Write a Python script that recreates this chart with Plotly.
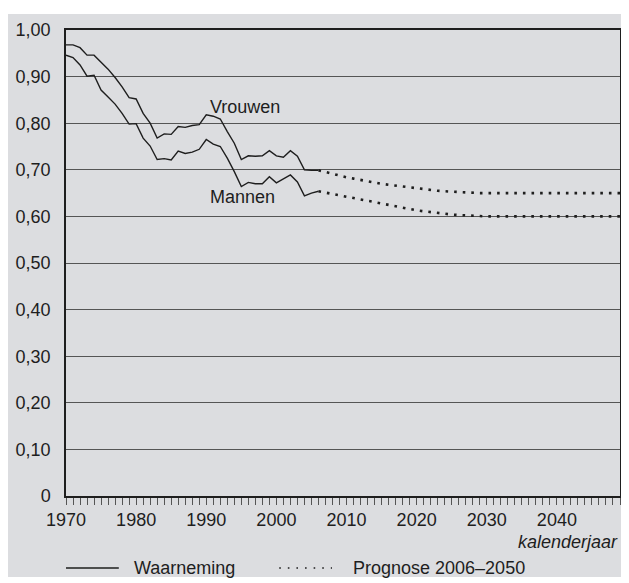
import plotly.graph_objects as go

# ---- data ----
obs_years = list(range(1970, 2007))
vrouwen_obs = [0.968, 0.968, 0.962, 0.946, 0.946, 0.932, 0.916, 0.898, 0.878, 0.855,
               0.852, 0.821, 0.800, 0.768, 0.777, 0.776, 0.793, 0.791, 0.795, 0.797,
               0.818, 0.815, 0.809, 0.782, 0.757, 0.722, 0.730, 0.729, 0.730, 0.741,
               0.730, 0.727, 0.741, 0.729, 0.700, 0.699, 0.699]
mannen_obs = [0.946, 0.941, 0.925, 0.901, 0.903, 0.871, 0.856, 0.841, 0.821, 0.798,
              0.799, 0.768, 0.751, 0.722, 0.724, 0.721, 0.740, 0.735, 0.738, 0.744,
              0.765, 0.755, 0.750, 0.725, 0.696, 0.664, 0.673, 0.670, 0.670, 0.685,
              0.672, 0.680, 0.689, 0.674, 0.644, 0.650, 0.654]

proj_years = list(range(2006, 2050))
vrouwen_proj = [0.699, 0.695, 0.691, 0.688, 0.684, 0.681, 0.678, 0.675, 0.673, 0.670,
                0.668, 0.666, 0.664, 0.662, 0.660, 0.658, 0.657, 0.655, 0.654, 0.653,
                0.652, 0.651, 0.651, 0.650, 0.650, 0.650, 0.650, 0.650, 0.650, 0.650,
                0.650, 0.650, 0.650, 0.650, 0.650, 0.650, 0.650, 0.650, 0.650, 0.650,
                0.650, 0.650, 0.650, 0.650]
mannen_proj = [0.654, 0.651, 0.648, 0.645, 0.642, 0.639, 0.636, 0.633, 0.630, 0.627,
               0.624, 0.621, 0.618, 0.615, 0.613, 0.611, 0.609, 0.607, 0.605, 0.604,
               0.603, 0.602, 0.601, 0.600, 0.600, 0.600, 0.600, 0.600, 0.600, 0.600,
               0.600, 0.600, 0.600, 0.600, 0.600, 0.600, 0.600, 0.600, 0.600, 0.600,
               0.600, 0.600, 0.600, 0.600]

x_tickvals = [1970, 1980, 1990, 2000, 2010, 2020, 2030, 2040]
x_ticktext = ["1970", "1980", "1990", "2000", "2010", "2020", "2030", "2040"]
y_tickvals = [0, 0.1, 0.2, 0.3, 0.4, 0.5, 0.6, 0.7, 0.8, 0.9, 1.0]
y_ticktext = ["0", "0,10", "0,20", "0,30", "0,40", "0,50", "0,60", "0,70", "0,80", "0,90", "1,00"]

series_labels = ["Vrouwen", "Mannen"]
legend_labels = ["Waarneming", "Prognose 2006\u20132050"]
x_title = "kalenderjaar"

FONT = "Liberation Sans, Arial, Helvetica, sans-serif"
FS = 18
INK = "#1e1e1e"
GRAY_BG = "#dcdde0"

# page is 629x583, the figure sits 8px in from the top-left (body margin)
OFF = 8
W, H = 621, 575
L, R, T, B = 58, 7, 22, 87
PW, PH = W - L - R, H - T - B

def px(x_page):
    return (x_page - OFF - L) / PW

def py(y_page):
    return (H - B - (y_page - OFF)) / PH

fig = go.Figure()
for ys in (vrouwen_obs, mannen_obs):
    fig.add_trace(go.Scatter(x=obs_years, y=ys, mode="lines",
                             line=dict(color=INK, width=1.4), showlegend=False,
                             hoverinfo="skip"))
for ys in (vrouwen_proj, mannen_proj):
    fig.add_trace(go.Scatter(x=proj_years, y=ys, mode="lines",
                             line=dict(color=INK, width=2.6, dash="2.6px,6px"),
                             showlegend=False, hoverinfo="skip"))

shapes = [
    # grey panel behind the chart
    dict(type="rect", xref="paper", yref="paper", x0=px(7), x1=px(650), y0=py(577), y1=py(14),
         fillcolor=GRAY_BG, line=dict(width=0), layer="below"),
    # legend samples
    dict(type="line", xref="paper", yref="paper", x0=px(66), x1=px(119), y0=py(568), y1=py(568),
         line=dict(color=INK, width=1.3)),
    dict(type="line", xref="paper", yref="paper", x0=px(280), x1=px(333), y0=py(568), y1=py(568),
         line=dict(color=INK, width=1.6, dash="1.6px,7px")),
]

annotations = [
    dict(x=1990.2, y=0.835, xref="x", yref="y", text=series_labels[0], showarrow=False,
         xanchor="left", yanchor="middle", font=dict(family=FONT, size=FS, color=INK)),
    dict(x=1990.2, y=0.642, xref="x", yref="y", text=series_labels[1], showarrow=False,
         xanchor="left", yanchor="middle", font=dict(family=FONT, size=FS, color=INK)),
    dict(x=1.0, y=py(542), xref="paper", yref="paper", text="<i>" + x_title + "</i>",
         showarrow=False, xanchor="right", yanchor="middle",
         font=dict(family=FONT, size=FS, color=INK)),
    dict(x=px(132), y=py(568), xref="paper", yref="paper", text=legend_labels[0],
         showarrow=False, xanchor="left", yanchor="middle",
         font=dict(family=FONT, size=FS, color=INK)),
    dict(x=px(352), y=py(568), xref="paper", yref="paper", text=legend_labels[1],
         showarrow=False, xanchor="left", yanchor="middle",
         font=dict(family=FONT, size=FS, color=INK)),
]

fig.update_layout(
    width=W, height=H,
    margin=dict(l=L, r=R, t=T, b=B, pad=0),
    paper_bgcolor="white", plot_bgcolor="white",
    font=dict(family=FONT, size=FS, color=INK),
    showlegend=False,
    shapes=shapes, annotations=annotations,
)
fig.update_xaxes(range=[1970, 2049], tickmode="array", tickvals=x_tickvals, ticktext=x_ticktext,
                 ticks="outside", ticklen=7, tickwidth=1.3, tickcolor="#555",
                 minor=dict(dtick=1, tick0=1970, ticks="outside", ticklen=7, tickwidth=1.3,
                            tickcolor="#555", showgrid=False),
                 showgrid=False, zeroline=False,
                 showline=True, linecolor=INK, linewidth=1.5, mirror=True,
                 tickfont=dict(family=FONT, size=FS, color=INK), ticklabelstandoff=0)
fig.update_yaxes(range=[0, 1.0], tickmode="array", tickvals=y_tickvals, ticktext=y_ticktext,
                 ticks="", showgrid=True, gridcolor="#555", gridwidth=1.4, zeroline=False,
                 showline=True, linecolor=INK, linewidth=1.5, mirror=True,
                 tickfont=dict(family=FONT, size=FS, color=INK), ticklabelstandoff=10)

fig.write_html("out.html")
